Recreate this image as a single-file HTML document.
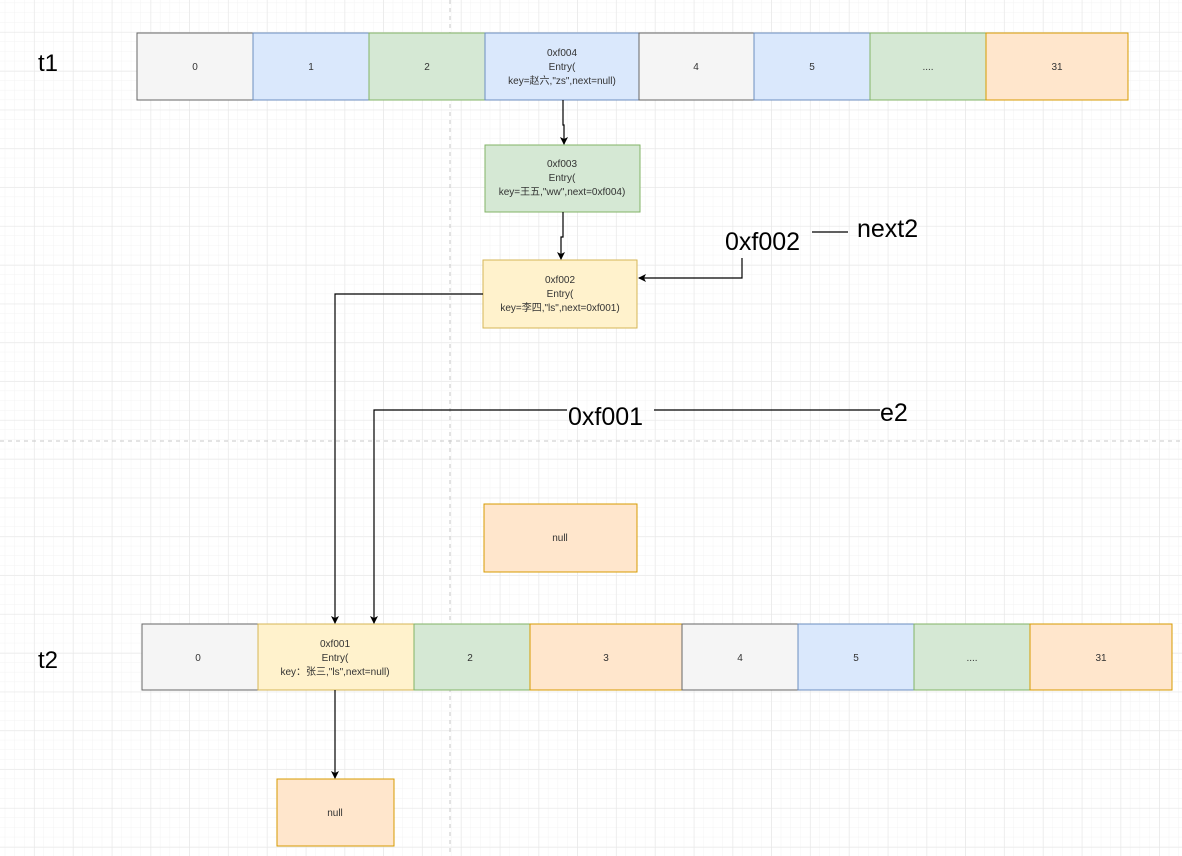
<!DOCTYPE html>
<html><head><meta charset="utf-8"><style>
body{margin:0;width:1182px;height:856px;overflow:hidden;background:#fff;}
svg{display:block}
text{font-family:"Liberation Sans","Noto Sans CJK SC",sans-serif;}
</style></head><body>
<svg width="1182" height="856" viewBox="0 0 1182 856">
<defs>
<pattern id="minor" x="34.3" y="32.2" width="9.7" height="9.7" patternUnits="userSpaceOnUse"><path d="M9.7 0V9.7M0 9.7H9.7" stroke="#f3f3f3" stroke-width="1" fill="none"/></pattern>
<pattern id="major" x="34.3" y="32.2" width="38.8" height="38.8" patternUnits="userSpaceOnUse"><path d="M0 0V38.8M0 0H38.8" stroke="#e6e6e6" stroke-width="1" fill="none"/></pattern>
<marker id="ar" markerWidth="8" markerHeight="8" refX="7" refY="4" orient="auto" markerUnits="userSpaceOnUse"><path d="M0 0L8 4L0 8L2 4Z" fill="#000"/></marker>
</defs>
<rect width="1182" height="856" fill="url(#minor)"/>
<rect width="1182" height="856" fill="url(#major)"/>
<line x1="450" y1="0" x2="450" y2="856" stroke="#c8c8c8" stroke-dasharray="4 4"/>
<line x1="0" y1="441" x2="1182" y2="441" stroke="#c8c8c8" stroke-dasharray="4 4"/>
<g font-size="10" text-anchor="middle" fill="#333">
<!-- top row -->
<rect x="137" y="33" width="116" height="67" fill="#f5f5f5" stroke="#666"/><text x="195" y="70">0</text>
<rect x="253" y="33" width="116" height="67" fill="#dae8fc" stroke="#6c8ebf"/><text x="311" y="70">1</text>
<rect x="369" y="33" width="116" height="67" fill="#d5e8d4" stroke="#82b366"/><text x="427" y="70">2</text>
<rect x="485" y="33" width="154" height="67" fill="#dae8fc" stroke="#6c8ebf"/>
<text x="562" y="56">0xf004</text><text x="562" y="70">Entry(</text><text x="562" y="84">key=赵六,"zs",next=null)</text>
<rect x="639" y="33" width="115" height="67" fill="#f5f5f5" stroke="#666"/><text x="696" y="70">4</text>
<rect x="754" y="33" width="116" height="67" fill="#dae8fc" stroke="#6c8ebf"/><text x="812" y="70">5</text>
<rect x="870" y="33" width="116" height="67" fill="#d5e8d4" stroke="#82b366"/><text x="928" y="70">....</text>
<rect x="986" y="33" width="142" height="67" fill="#ffe6cc" stroke="#d79b00"/><text x="1057" y="70">31</text>
<!-- chain -->
<rect x="485" y="145" width="155" height="67" fill="#d5e8d4" stroke="#82b366"/>
<text x="562" y="167">0xf003</text><text x="562" y="181">Entry(</text><text x="562" y="195">key=王五,"ww",next=0xf004)</text>
<rect x="483" y="260" width="154" height="68" fill="#fff2cc" stroke="#d6b656"/>
<text x="560" y="283">0xf002</text><text x="560" y="297">Entry(</text><text x="560" y="311">key=李四,"ls",next=0xf001)</text>
<rect x="484" y="504" width="153" height="68" fill="#ffe6cc" stroke="#d79b00"/><text x="560" y="541">null</text>
<!-- bottom row -->
<rect x="142" y="624" width="116" height="66" fill="#f5f5f5" stroke="#666"/><text x="198" y="661">0</text>
<rect x="258" y="624" width="156" height="66" fill="#fff2cc" stroke="#d6b656"/>
<text x="335" y="647">0xf001</text><text x="335" y="661">Entry(</text><text x="335" y="675">key：张三,"ls",next=null)</text>
<rect x="414" y="624" width="116" height="66" fill="#d5e8d4" stroke="#82b366"/><text x="470" y="661">2</text>
<rect x="530" y="624" width="152" height="66" fill="#ffe6cc" stroke="#d79b00"/><text x="606" y="661">3</text>
<rect x="682" y="624" width="116" height="66" fill="#f5f5f5" stroke="#666"/><text x="740" y="661">4</text>
<rect x="798" y="624" width="116" height="66" fill="#dae8fc" stroke="#6c8ebf"/><text x="856" y="661">5</text>
<rect x="914" y="624" width="116" height="66" fill="#d5e8d4" stroke="#82b366"/><text x="972" y="661">....</text>
<rect x="1030" y="624" width="142" height="66" fill="#ffe6cc" stroke="#d79b00"/><text x="1101" y="661">31</text>
<rect x="277" y="779" width="117" height="67" fill="#ffe6cc" stroke="#d79b00"/><text x="335" y="816">null</text>
</g>
<g stroke="#000" stroke-width="1.2" fill="none">
<path d="M563 100V125H564V144" marker-end="url(#ar)"/>
<path d="M563 212V237H561V259" marker-end="url(#ar)"/>
<path d="M483 294H335V623" marker-end="url(#ar)"/>
<path d="M742 258V278H639" marker-end="url(#ar)"/>
<path d="M567 410H374V623" marker-end="url(#ar)"/>
<path d="M654 410H880"/>
<path d="M812 232H848"/>
<path d="M335 690V778" marker-end="url(#ar)"/>
</g>
<g fill="#000">
<text x="38" y="71" font-size="24">t1</text>
<text x="38" y="668" font-size="24">t2</text>
<text x="725" y="250" font-size="25">0xf002</text>
<text x="857" y="237" font-size="25">next2</text>
<text x="568" y="425" font-size="25">0xf001</text>
<text x="880" y="421" font-size="25">e2</text>
</g>
</svg>
</body></html>
